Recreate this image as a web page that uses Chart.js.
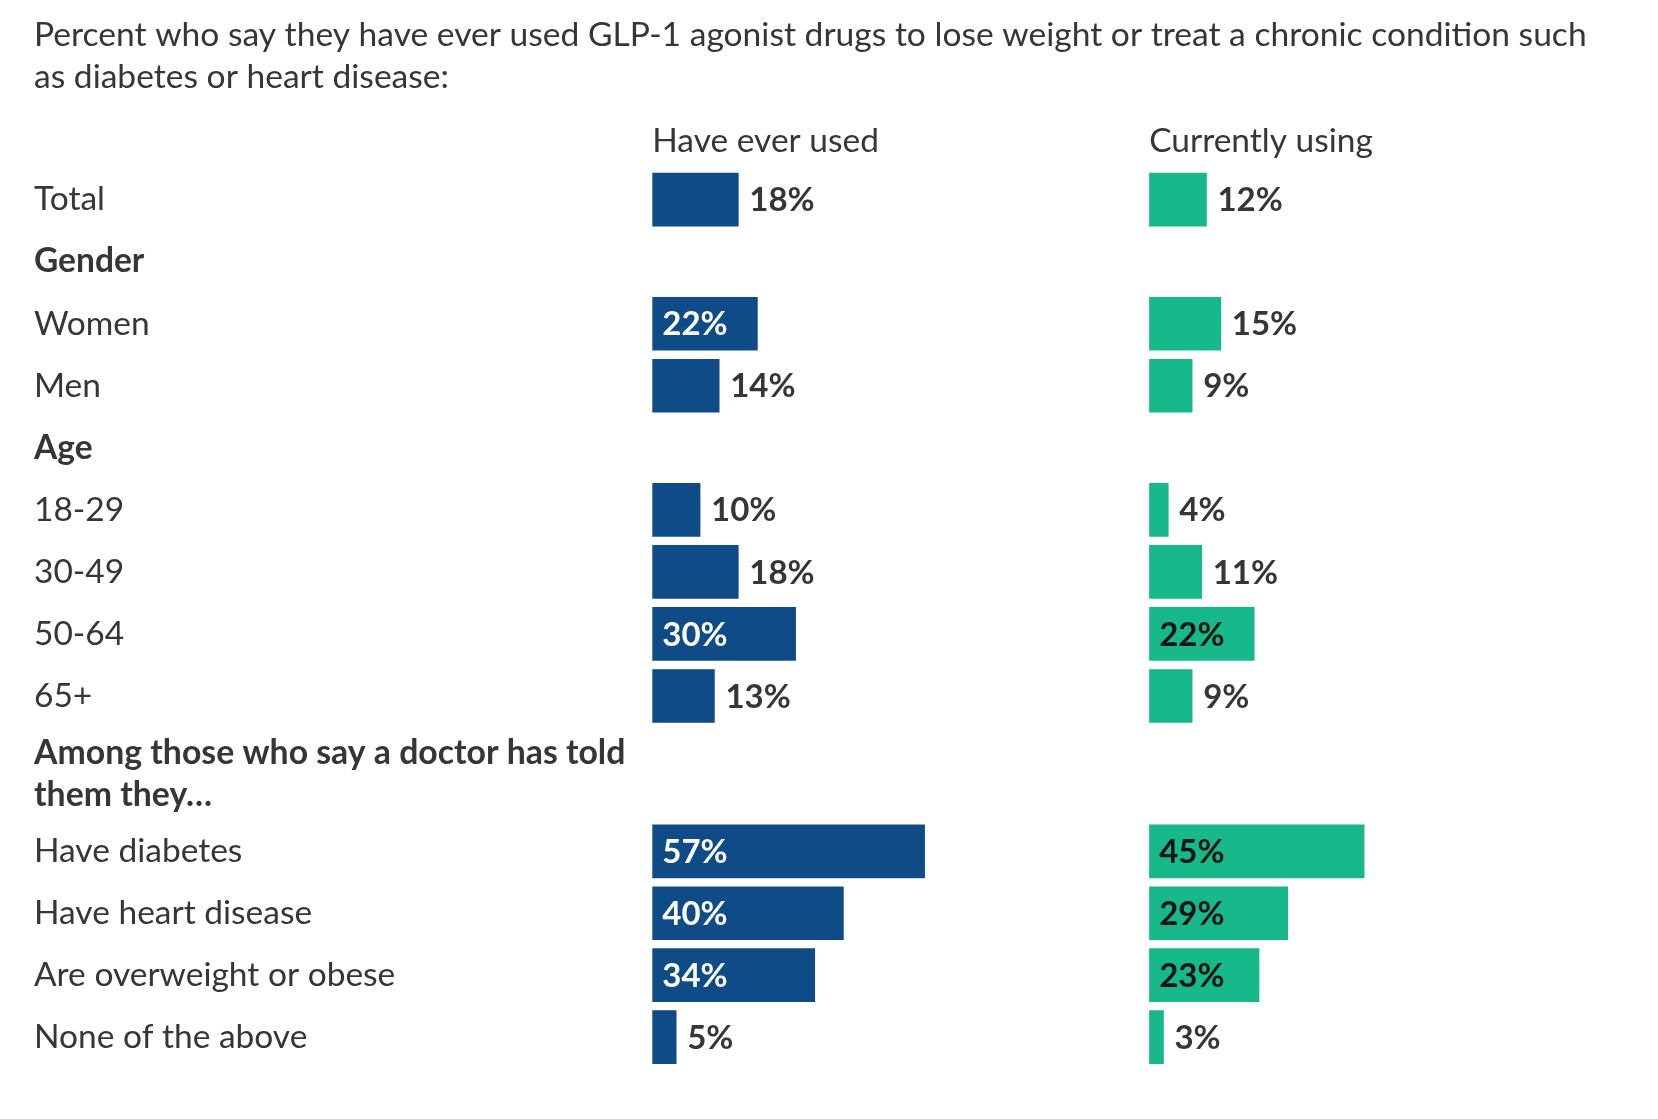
<!DOCTYPE html>
<html>
<head>
<meta charset="utf-8">
<script src="https://cdn.jsdelivr.net/npm/chart.js@4.4.1/dist/chart.umd.min.js"></script>
<style>
  html, body { margin: 0; padding: 0; background: #ffffff; width: 1658px; height: 1119px; overflow: hidden; }
  .wrap { position: absolute; left: 0; }
  #wrapA { top: 0; width: 1658px; height: 760px; }
  #wrapB { top: 727px; width: 1658px; height: 392px; }
</style>
</head>
<body>
<div class="wrap" id="wrapA"><canvas id="chartA" width="1658" height="760"></canvas></div>
<div class="wrap" id="wrapB"><canvas id="chartB" width="1658" height="392"></canvas></div>
<script>
// ---------- data ----------
const titleLines = [
  "Percent who say they have ever used GLP-1 agonist drugs to lose weight or treat a chronic condition such",
  "as diabetes or heart disease:"
];
const columnTitles = ["Have ever used", "Currently using"];

const categoriesTop = ["Total", "Gender", "Women", "Men", "Age", "18-29", "30-49", "50-64", "65+"];
const headerRows = ["Gender", "Age"];
const everUsedTop = [18, null, 22, 14, null, 10, 18, 30, 13];
const currentlyUsingTop = [12, null, 15, 9, null, 4, 11, 22, 9];

const groupHeading = ["Among those who say a doctor has told", "them they…"];
const categoriesBottom = ["Have diabetes", "Have heart disease", "Are overweight or obese", "None of the above"];
const everUsedBottom = [57, 40, 34, 5];
const currentlyUsingBottom = [45, 29, 23, 3];

// ---------- style ----------
const FONT = "Lato, 'Open Sans', sans-serif";
const BLUE = "#0e4b87";
const GREEN = "#17b889";
const TEXT = "#363636";
const AXIS_MAX = 104;
const INSIDE_MIN = 20;
const LABEL_SIZE = 33.5;

Chart.defaults.font.family = FONT;
Chart.defaults.color = TEXT;

const valueLabels = {
  id: 'valueLabels',
  afterDatasetsDraw(chart) {
    const ctx = chart.ctx;
    ctx.save();
    ctx.font = "bold 33px " + FONT;
    ctx.textBaseline = 'middle';
    ctx.textAlign = 'left';
    chart.data.datasets.forEach((ds, di) => {
      const meta = chart.getDatasetMeta(di);
      meta.data.forEach((bar, i) => {
        const v = ds.data[i];
        if (v === null || v === undefined) return;
        const txt = v + "%";
        if (v >= INSIDE_MIN) {
          ctx.fillStyle = di === 0 ? "#ffffff" : "#141414";
          ctx.fillText(txt, bar.base + 10, bar.y + 1);
        } else {
          ctx.fillStyle = TEXT;
          ctx.fillText(txt, bar.x + 11, bar.y + 1);
        }
      });
    });
    ctx.restore();
  }
};

// top boxes are laid out in descending weight, so the first column gets the higher weight
function xAxis(titleText, showTitle, axisHeight, order) {
  return {
    type: 'linear',
    position: 'top',
    stack: 'cols',
    stackWeight: 1,
    weight: order,
    min: 0,
    max: AXIS_MAX,
    grid: { display: false },
    border: { display: false },
    ticks: { display: false },
    title: {
      display: showTitle,
      text: titleText,
      align: 'start',
      color: TEXT,
      font: { size: LABEL_SIZE, family: FONT, lineHeight: 1.2 },
      padding: { top: 22, bottom: 0 }
    },
    afterFit(scale) { scale.height = axisHeight; }
  };
}

function makeChart(canvasId, labels, ever, current, cfg) {
  return new Chart(document.getElementById(canvasId), {
    type: 'bar',
    data: {
      labels: labels,
      datasets: [
        { label: columnTitles[0], data: ever, xAxisID: 'x', backgroundColor: BLUE,
          grouped: false, barThickness: 53, borderWidth: 0 },
        { label: columnTitles[1], data: current, xAxisID: 'x2', backgroundColor: GREEN,
          grouped: false, barThickness: 53, borderWidth: 0 }
      ]
    },
    options: {
      indexAxis: 'y',
      responsive: false,
      animation: false,
      devicePixelRatio: 1,
      layout: { padding: cfg.padding },
      plugins: {
        legend: { display: false },
        tooltip: { enabled: false },
        title: {
          display: true,
          text: cfg.title,
          align: 'start',
          color: TEXT,
          font: { size: cfg.titleSize, family: FONT, weight: cfg.titleWeight, lineHeight: cfg.titleLineHeight },
          padding: cfg.titlePadding
        }
      },
      scales: {
        y: {
          type: 'category',
          grid: { display: false },
          border: { display: false },
          ticks: {
            crossAlign: 'far',
            color: TEXT,
            autoSkip: false,
            font: (c) => ({
              size: LABEL_SIZE,
              family: FONT,
              weight: (c.tick && headerRows.includes(c.tick.label)) ? 'bold' : 'normal'
            })
          },
          afterFit(scale) { scale.width = 618.3; }
        },
        x: xAxis(columnTitles[0], cfg.showColumnTitles, cfg.axisHeight, 2),
        x2: xAxis(columnTitles[1], cfg.showColumnTitles, cfg.axisHeight, 1)
      }
    },
    plugins: [valueLabels]
  });
}

makeChart('chartA', categoriesTop, everUsedTop, currentlyUsingTop, {
  title: titleLines,
  titleSize: 33.6,
  titleWeight: 'normal',
  titleLineHeight: 1.259,
  titlePadding: { top: 14, bottom: 0 },
  showColumnTitles: true,
  axisHeight: 70,
  padding: { top: 0, left: 34, right: 12, bottom: 33 }
});

makeChart('chartB', categoriesBottom, everUsedBottom, currentlyUsingBottom, {
  title: groupHeading,
  titleSize: 33.8,
  titleWeight: 'bold',
  titleLineHeight: 1.219,
  titlePadding: { top: 6, bottom: 5 },
  showColumnTitles: false,
  axisHeight: 0,
  padding: { top: 0, left: 34, right: 12, bottom: 51 }
});
</script>
</body>
</html>
